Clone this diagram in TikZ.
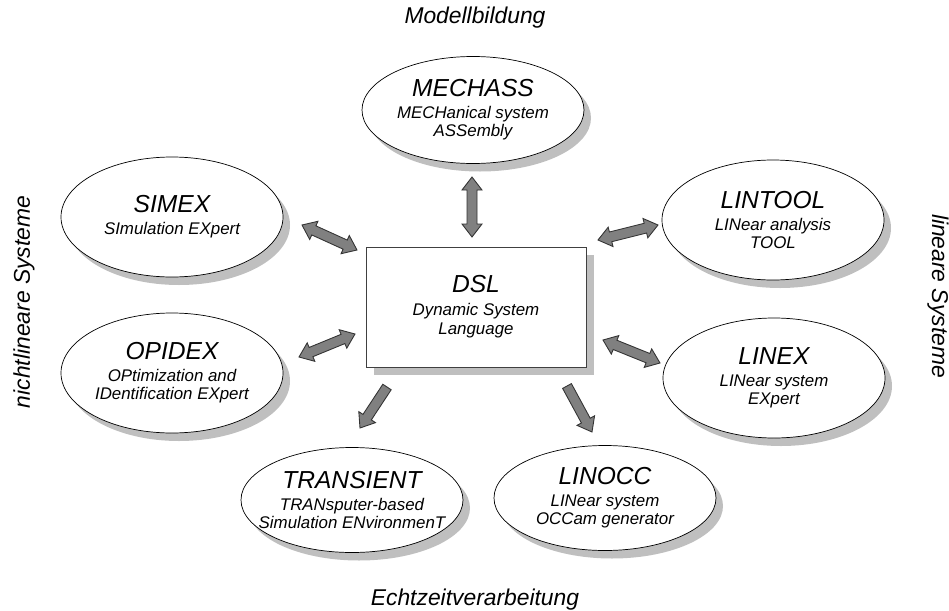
\documentclass[tikz,border=0pt]{standalone}
\usepackage{fontspec}
\setmainfont{Liberation Sans}
\usetikzlibrary{shapes.geometric,shadows,calc}

% block arrow with a head at both ends, from #1 to #2
\newcommand\dblarrow[2]{%
  \filldraw[blockarrow] (#1)
    -- ($(#1)!2.6mm!(#2)!2mm!90:(#2)$) -- ($(#1)!2.6mm!(#2)!1mm!90:(#2)$)
    -- ($(#2)!2.6mm!(#1)!1mm!-90:(#1)$) -- ($(#2)!2.6mm!(#1)!2mm!-90:(#1)$)
    -- (#2)
    -- ($(#2)!2.6mm!(#1)!2mm!90:(#1)$) -- ($(#2)!2.6mm!(#1)!1mm!90:(#1)$)
    -- ($(#1)!2.6mm!(#2)!1mm!-90:(#2)$) -- ($(#1)!2.6mm!(#2)!2mm!-90:(#2)$)
    -- cycle;}
% block arrow with one head, from #1 to #2
\newcommand\onearrow[2]{%
  \filldraw[blockarrow] ($(#1)!1mm!90:(#2)$)
    -- ($(#2)!2.6mm!(#1)!1mm!-90:(#1)$) -- ($(#2)!2.6mm!(#1)!2mm!-90:(#1)$)
    -- (#2)
    -- ($(#2)!2.6mm!(#1)!2mm!90:(#1)$) -- ($(#2)!2.6mm!(#1)!1mm!90:(#1)$)
    -- ($(#1)!1mm!-90:(#2)$) -- cycle;}
\newcommand\tooltitle[1]{{\fontsize{14}{16}\selectfont #1}\\[2.3pt]}

\begin{document}
\begin{tikzpicture}[
    x=0.2mm, y=-0.2mm,
    tool/.style={ellipse, draw, fill=white, inner xsep=-4mm, inner ysep=0pt, align=center,
        minimum width=44.4mm, minimum height=24mm,
        font=\itshape\fontsize{9.6}{10.2}\selectfont,
        drop shadow={shadow xshift=1.4mm, shadow yshift=-1.6mm, fill=black!25, opacity=1}},
    core/.style={rectangle, draw=black!75, fill=white, align=center,
        minimum width=44mm, minimum height=24mm,
        font=\itshape\fontsize{9.6}{10.8}\selectfont,
        drop shadow={shadow xshift=1.6mm, shadow yshift=-1.6mm, fill=black!25, opacity=1}},
    blockarrow/.style={fill=black!50, draw=black!80, line width=0.5pt},
    side/.style={font=\itshape\fontsize{13}{15}\selectfont},
]
    \useasboundingbox (0,0) rectangle (949,611);

    % centre
    \node[core] (dsl) at (476,307) {\tooltitle{DSL} Dynamic System\\ Language};

    % tools round it
    \node[tool, minimum height=21.4mm] (mechass) at (473,110) {\tooltitle{MECHASS} MECHanical system\\ ASSembly};
    \node[tool] (simex) at (172,217) {\tooltitle{SIMEX} SImulation EXpert};
    \node[tool] (opidex) at (172,373) {\tooltitle{OPIDEX} OPtimization and\\ IDentification EXpert};
    \node[tool] (lintool) at (773,220) {\tooltitle{LINTOOL} LINear analysis\\ TOOL};
    \node[tool] (linex) at (774,378) {\tooltitle{LINEX} LINear system\\ EXpert};
    \node[tool, minimum height=21mm] (transient) at (352,500) {\tooltitle{TRANSIENT} TRANsputer-based\\ Simulation ENvironmenT};
    \node[tool, minimum height=21mm] (linocc) at (605,498) {\tooltitle{LINOCC} LINear system\\ OCCam generator};

    % side labels
    \node[side] (modell) at (475,18) {Modellbildung};
    \node[side] (echtzeit) at (475,600) {Echtzeitverarbeitung};
    \node[side, rotate=90] (nonlin) at (24,302) {nichtlineare Systeme};
    \node[side, rotate=-90] (lin) at (938,296) {lineare Systeme};

    % arrow ends
    \coordinate (mechass-a) at (472,177);  \coordinate (dsl-n) at (472,237);
    \coordinate (simex-a) at (302,225);    \coordinate (dsl-nw) at (357,250);
    \coordinate (lintool-a) at (658,225);  \coordinate (dsl-ne) at (598,240);
    \coordinate (opidex-a) at (299,357);   \coordinate (dsl-w) at (355,334);
    \coordinate (linex-a) at (660,363);    \coordinate (dsl-e) at (603,340);
    \coordinate (transient-a) at (360,428); \coordinate (dsl-sw) at (387,387);
    \coordinate (linocc-a) at (592,432);   \coordinate (dsl-se) at (567,386);

    % arrows
    \dblarrow{mechass-a}{dsl-n}
    \dblarrow{simex-a}{dsl-nw}
    \dblarrow{lintool-a}{dsl-ne}
    \dblarrow{opidex-a}{dsl-w}
    \dblarrow{linex-a}{dsl-e}
    \onearrow{dsl-sw}{transient-a}
    \onearrow{dsl-se}{linocc-a}
\end{tikzpicture}
\end{document}
